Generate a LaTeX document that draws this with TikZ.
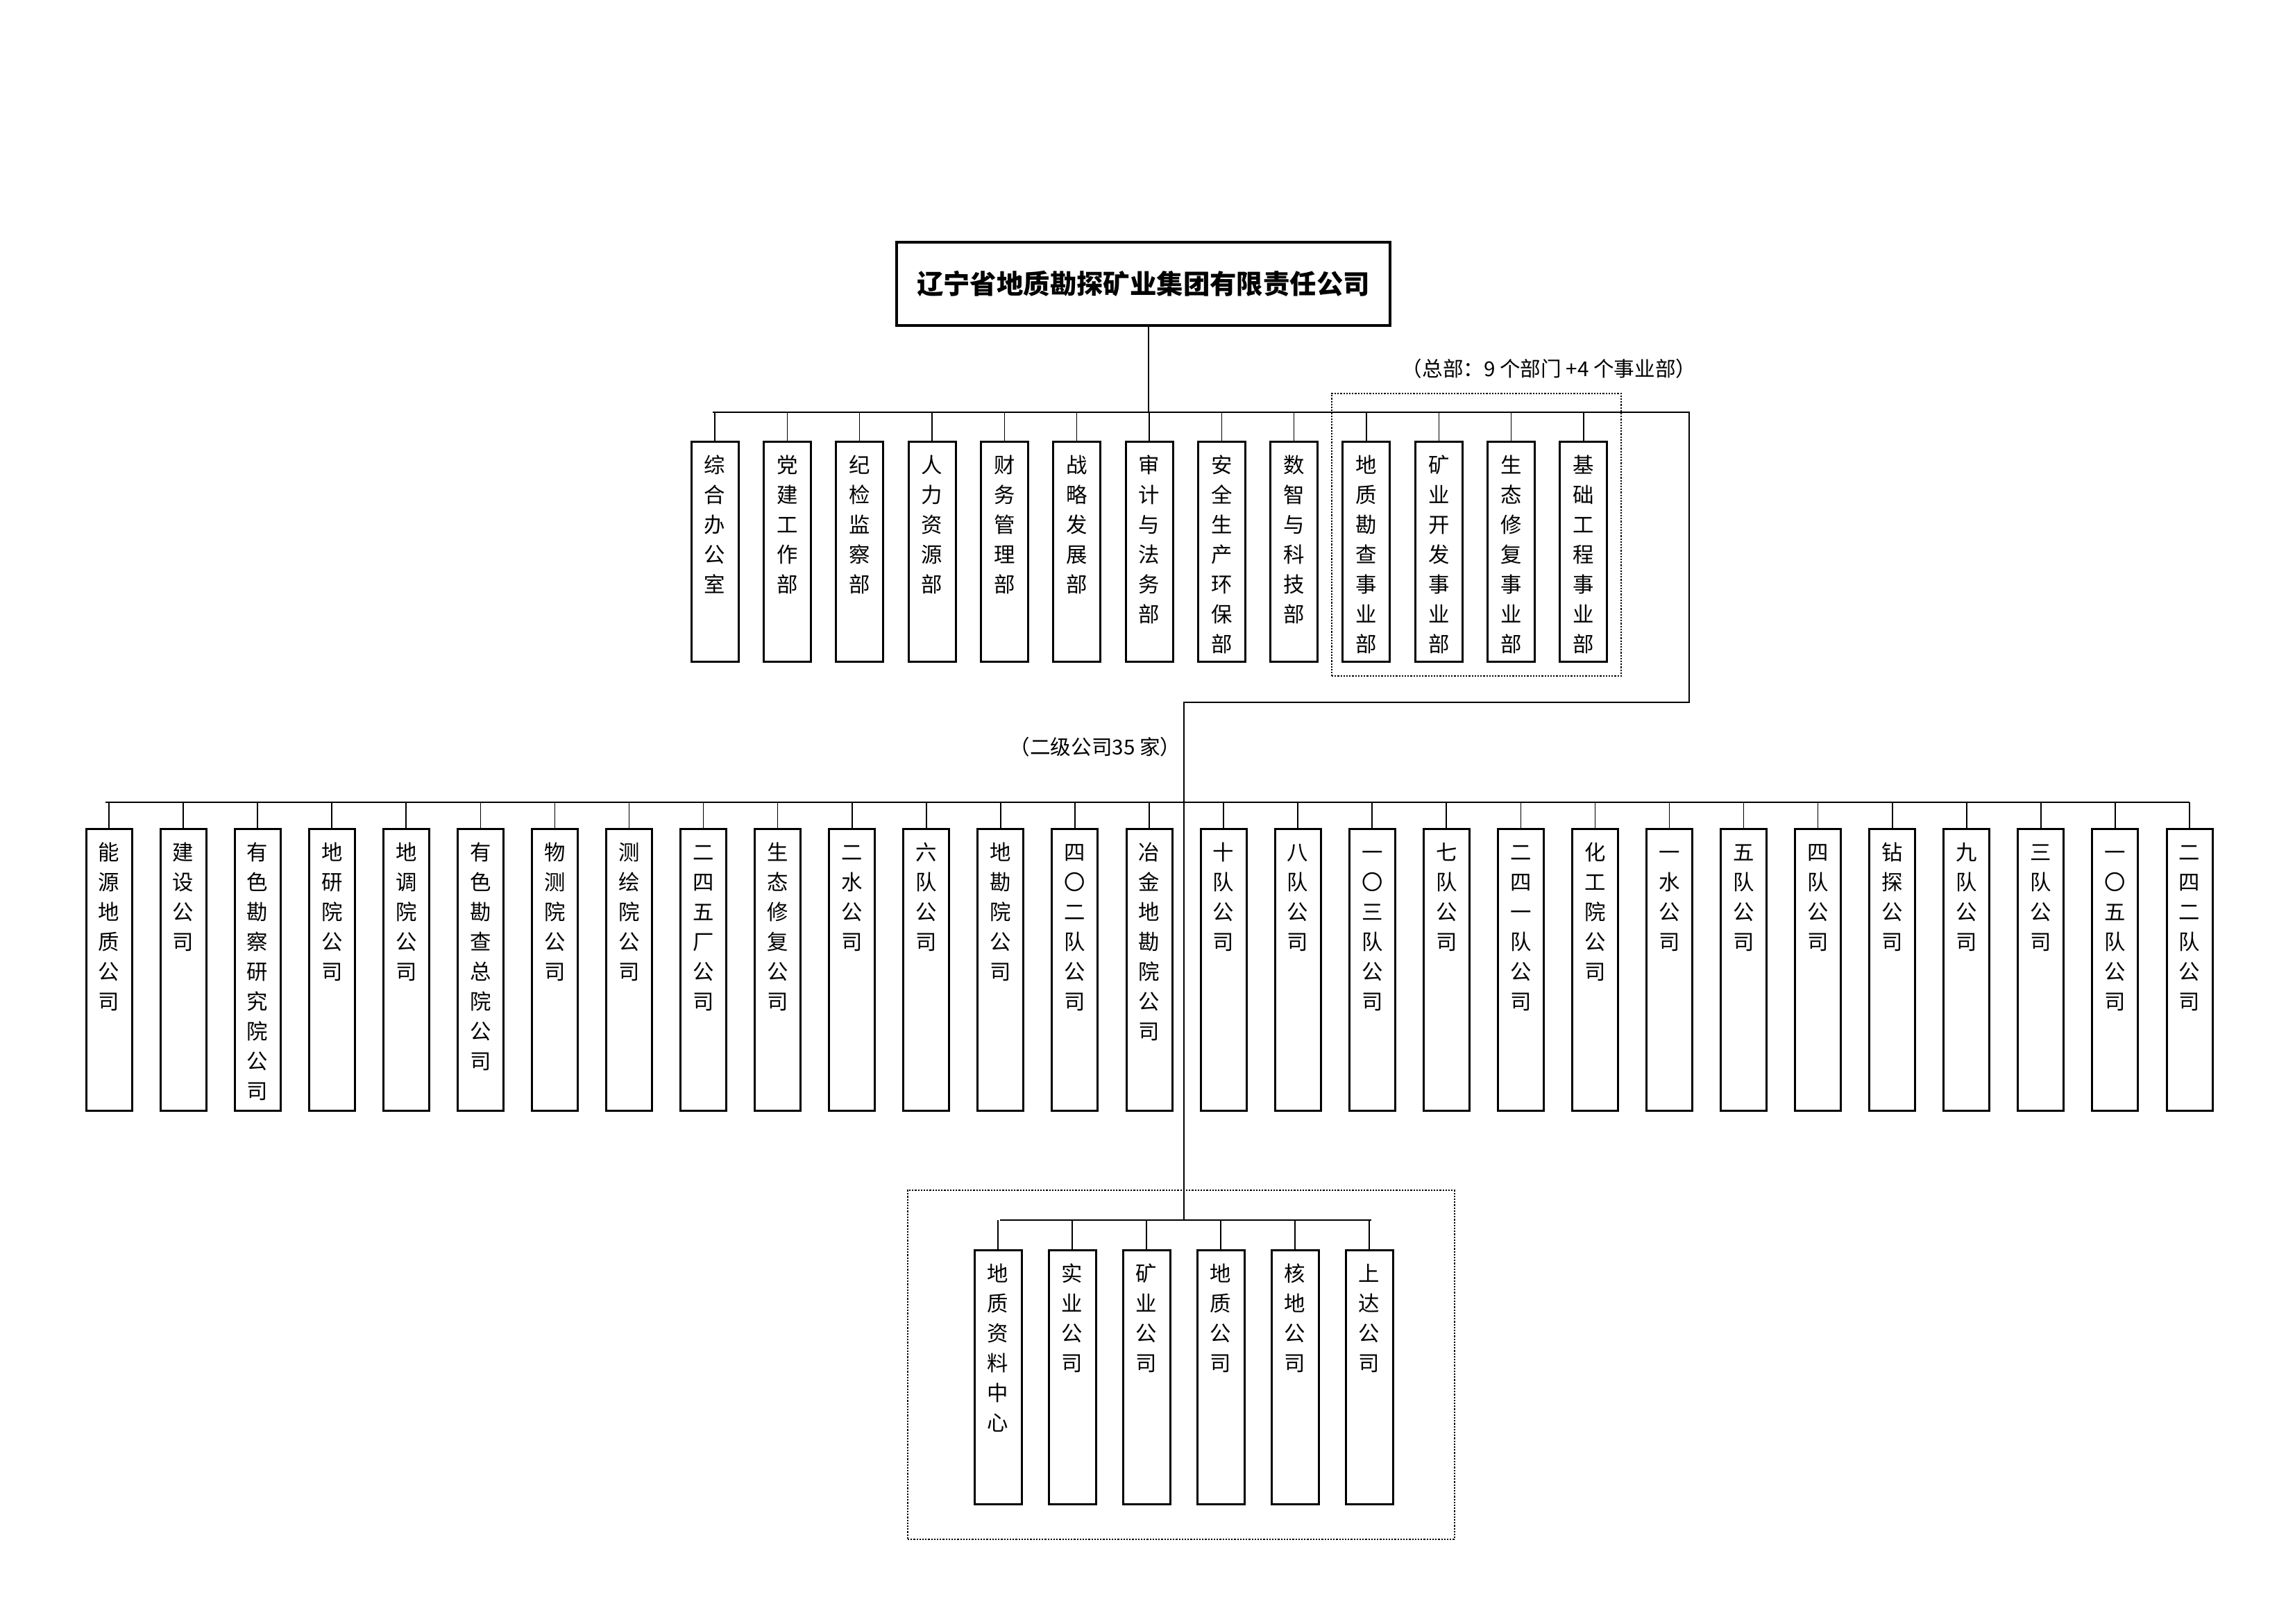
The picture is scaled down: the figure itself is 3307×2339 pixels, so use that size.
\documentclass[tikz,border=0pt]{standalone}
\usepackage{fontspec}
\setmainfont{Noto Sans CJK SC}
\makeatletter
\def\stk#1{\expandafter\stk@a\expandafter{#1}}
\def\stk@a#1{\@tfor\@c:=#1\do{\@c\par}}
\makeatother
\newcommand\vlab[3]{\parbox[t][#1][t]{#2}{\centering\rule{0pt}{11.3pt}\stk{#3}}}
\tikzset{
  conn/.style={line width=0.4pt},
  bx/.style={draw, line width=0.75pt, inner sep=0pt, outer sep=0pt, anchor=north,
    font=\fontsize{7.6pt}{10.75pt}\selectfont},
  titlebox/.style={draw, line width=0.9pt, inner sep=0pt, minimum width=177.75pt,
    minimum height=30pt, font=\fontsize{9.6pt}{11pt}\selectfont\bfseries},
  dotbox/.style={draw, line width=0.7pt, dash pattern=on 0.55pt off 0.5pt, inner sep=0pt},
  note/.style={inner sep=0pt, font=\fontsize{7.4pt}{8pt}\selectfont},
}
\begin{document}
\begin{tikzpicture}[x=0.25pt, y=-0.25pt]
\useasboundingbox (0,0) rectangle (3307,2339);
% title
\node[titlebox] (title) at (1647.5,409) {辽宁省地质勘探矿业集团有限责任公司};
% notes
\node[note] (n1) at (2232,531) {（总部：9 个部门 +4 个事业部）};
\node[note] (n2) at (1578,1076) {（二级公司35 家）};
% dotted groups
\node[dotbox, minimum width=104.25pt, minimum height=101.75pt] (grp1) at (2127.5,770.5) {};
\node[dotbox, minimum width=197pt, minimum height=125.75pt] (grp2) at (1702,1966.5) {};
% buses and trunk
\coordinate (busT) at (1655,594);
\coordinate (busL) at (1027,594);
\coordinate (busR) at (2434,594);
\coordinate (r1) at (2434,1012);
\coordinate (r2) at (1706,1012);
\coordinate (b3) at (1706,1758);
\coordinate (l2L) at (152,1156);
\coordinate (l2R) at (3155,1156);
\coordinate (b3L) at (1441,1758);
\coordinate (b3R) at (1976,1758);
\draw[conn, line width=0.5pt] (title.south -| busT) -- (busT);
\draw[conn] (busL) -- (busR) -- (r1) -- (r2) -- (b3);
\draw[conn] (l2L) -- (l2R);
\draw[conn] (b3L) -- (b3R);
% level 1
\foreach \t [count=\i from 0] in {综合办公室,党建工作部,纪检监察部,人力资源部,财务管理部,战略发展部,审计与法务部,安全生产环保部,数智与科技部,地质勘查事业部,矿业开发事业部,生态修复事业部,基础工程事业部}{
  \node[bx] (d\i) at ({1030+\i*104.33},636) {\vlab{79.25pt}{17pt}{\t}};
  \draw[conn] (d\i.north) -- (d\i.north |- busL);
}
% level 2
\foreach \t [count=\i from 0] in {能源地质公司,建设公司,有色勘察研究院公司,地研院公司,地调院公司,有色勘查总院公司,物测院公司,测绘院公司,二四五厂公司,生态修复公司,二水公司,六队公司,地勘院公司,四〇二队公司,冶金地勘院公司,十队公司,八队公司,一〇三队公司,七队公司,二四一队公司,化工院公司,一水公司,五队公司,四队公司,钻探公司,九队公司,三队公司,一〇五队公司,二四二队公司}{
  \node[bx] (c\i) at ({157+\i*107.07},1194) {\vlab{101.5pt}{16.5pt}{\t}};
  \draw[conn] (c\i.north) -- (c\i.north |- l2L);
}
% level 3
\foreach \t [count=\i from 0] in {地质资料中心,实业公司,矿业公司,地质公司,核地公司,上达公司}{
  \node[bx] (e\i) at ({1438+\i*107},1801) {\vlab{91.5pt}{17pt}{\t}};
  \draw[conn] (e\i.north) -- (e\i.north |- b3L);
}
\end{tikzpicture}
\end{document}
